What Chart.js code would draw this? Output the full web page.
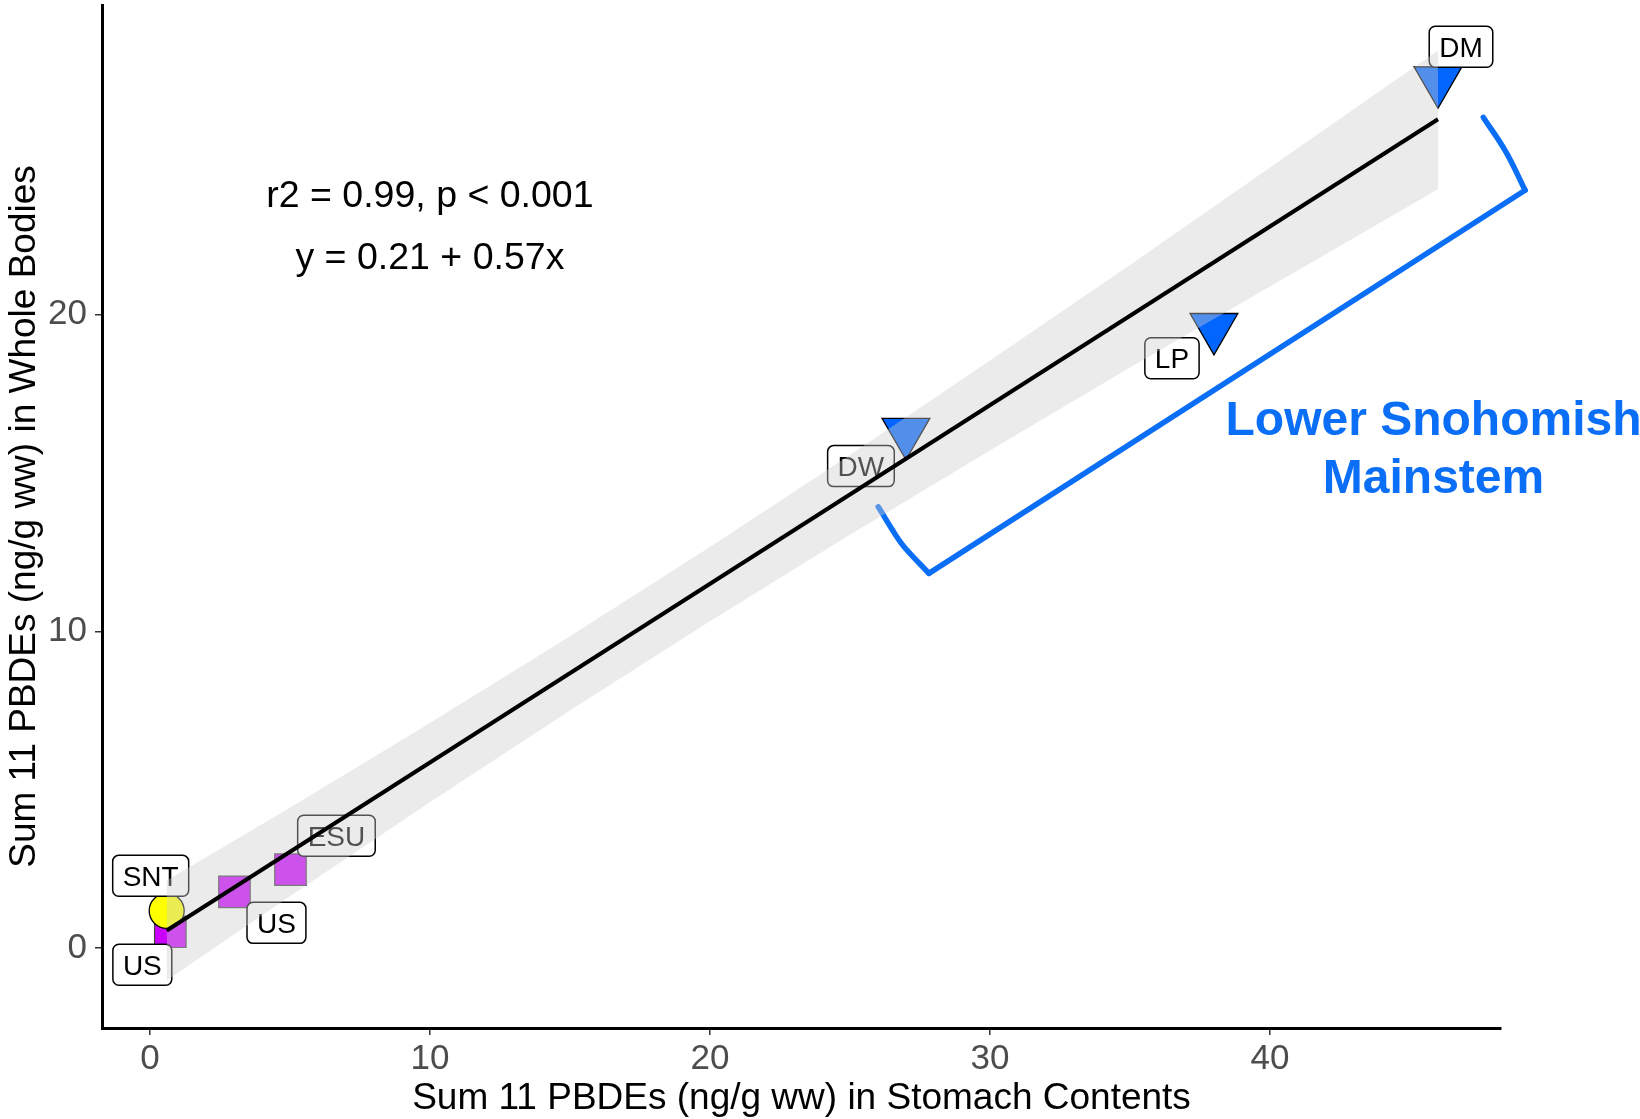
<!DOCTYPE html>
<html>
<head>
<meta charset="utf-8">
<script src="https://cdn.jsdelivr.net/npm/chart.js@4.4.1/dist/chart.umd.min.js"></script>
<style>
  html, body { margin: 0; padding: 0; background: #fff; }
  canvas { display: block; }
</style>
</head>
<body>
<canvas id="chart" width="1640" height="1119" style="width:1640px;height:1119px"></canvas>
<script>
// === Data ===
const squareNames = ['US', 'US', 'ESU'];
const squareX = [0.73, 3.02, 5.02];
const squareY = [0.51, 1.77, 2.47];

const circleNames = ['SNT'];
const circleX = [0.6];
const circleY = [1.17];

const triNames = ['DW', 'LP', 'DM'];
const triX = [27.0, 38.0, 46.0];
const triY = [16.29, 19.6, 27.39];

// fitted line + confidence ribbon
const fitX = [0.6, 46.0];
const fitY = [0.55, 26.17];
const bandX = [0.6, 5, 10, 15, 20, 25, 30, 35, 40, 46];
const bandUpper = [2.13, 4.43, 7.10, 9.84, 12.66, 15.57, 18.55, 21.57, 24.65, 28.34];
const bandLower = [-1.03, 1.63, 4.60, 7.50, 10.32, 13.05, 15.71, 18.33, 20.89, 23.96];

// blue bracket around the mainstem sites: two curved arms + the long side
// (listed right-to-left so Chart.js keeps the points past the x max)
const armTopX = [49.11, 48.42, 47.62];
const armTopY = [23.93, 25.15, 26.23];
const bracketX = [49.11, 27.82];
const bracketY = [23.93, 11.83];
const armBottomX = [27.82, 26.85, 26.01];
const armBottomY = [11.83, 12.76, 13.93];

const xTicks = [0, 10, 20, 30, 40];
const yTicks = [0, 10, 20];

// === Styling ===
const FONT = '"Liberation Sans", Arial, Helvetica, sans-serif';
const BLUE = '#0a6ef6';
const BAND = 'rgba(204, 204, 204, 0.4)';
Chart.defaults.font.family = FONT;

const pts = (xs, ys) => xs.map((x, i) => ({ x, y: ys[i] }));

// label box offsets from their point (px), like ggrepel put them
const squareOffsets = [[-28, 33], [42, 31], [46, -34]];
const circleOffsets = [[-16, -35]];
const triOffsets = [[-45, 34], [-42, 31], [23, -34]];

const TRI_INDEX = 3;
const labelSets = [
  { index: 5, names: squareNames, offsets: squareOffsets },
  { index: 4, names: circleNames, offsets: circleOffsets },
  { index: 3, names: triNames, offsets: triOffsets }
];

function drawLabel(ctx, text, cx, cy) {
  const tw = ctx.measureText(text).width;
  const w = tw + 20, h = 41;
  ctx.beginPath();
  ctx.roundRect(cx - w / 2, cy - h / 2, w, h, 6);
  ctx.fillStyle = '#fff';
  ctx.fill();
  ctx.lineWidth = 1.5;
  ctx.strokeStyle = '#000';
  ctx.stroke();
  ctx.fillStyle = '#000';
  ctx.textAlign = 'center';
  ctx.textBaseline = 'alphabetic';
  ctx.fillText(text, cx, cy + 10);
}

// labels go under the ribbon, so draw them right after the last point layer
const labelPlugin = {
  id: 'siteLabels',
  afterDatasetDraw(chart, args) {
    if (args.index !== TRI_INDEX) return;
    const ctx = chart.ctx;
    ctx.save();
    ctx.font = '28px ' + FONT;
    labelSets.forEach(({ index, names, offsets }) => {
      chart.getDatasetMeta(index).data.forEach((pt, i) => {
        drawLabel(ctx, names[i], pt.x + offsets[i][0], pt.y + offsets[i][1]);
      });
    });
    ctx.restore();
  }
};

const textPlugin = {
  id: 'annotText',
  afterDraw(chart) {
    const { ctx, scales: { x, y } } = chart;
    ctx.save();
    ctx.textAlign = 'center';
    ctx.textBaseline = 'alphabetic';
    ctx.fillStyle = '#000';
    ctx.font = '37.5px ' + FONT;
    ctx.fillText('r2 = 0.99, p < 0.001', x.getPixelForValue(10), y.getPixelForValue(23.4));
    ctx.fillText('y = 0.21 + 0.57x', x.getPixelForValue(10), y.getPixelForValue(21.45));
    ctx.fillStyle = BLUE;
    ctx.font = 'bold 48px ' + FONT;
    ctx.fillText('Lower Snohomish', x.getPixelForValue(45.84), y.getPixelForValue(16.2));
    ctx.fillText('Mainstem', x.getPixelForValue(45.84), y.getPixelForValue(14.36));
    ctx.restore();
  }
};

const axisCommon = {
  type: 'linear',
  border: { display: true, color: '#000', width: 3 },
  grid: { display: true, drawOnChartArea: false, drawTicks: true, tickLength: 7, color: '#333', lineWidth: 1.5 },
};

const bracketPiece = (xs, ys, tension) => ({
  type: 'line', data: pts(xs, ys), borderColor: BLUE, borderWidth: 5.5,
  borderCapStyle: 'round', borderJoinStyle: 'round', pointRadius: 0, fill: false,
  tension, clip: false
});

new Chart(document.getElementById('chart'), {
  type: 'scatter',
  data: {
    datasets: [
      { // 0 fit line
        type: 'line', data: pts(fitX, fitY), borderColor: '#000', borderWidth: 4,
        pointRadius: 0, fill: false, tension: 0
      },
      { // 1 ribbon upper
        type: 'line', data: pts(bandX, bandUpper), borderWidth: 0, borderColor: 'transparent',
        backgroundColor: BAND, pointRadius: 0, fill: '+1', tension: 0
      },
      { // 2 ribbon lower
        type: 'line', data: pts(bandX, bandLower), borderWidth: 0, borderColor: 'transparent',
        pointRadius: 0, fill: false, tension: 0
      },
      { // 3 mainstem sites
        data: pts(triX, triY), pointStyle: 'triangle', rotation: 180, pointRadius: 27.6,
        backgroundColor: '#0066ff', borderColor: '#000', borderWidth: 1.3
      },
      { // 4 SNT
        data: pts(circleX, circleY), pointStyle: 'circle', pointRadius: 17.5,
        backgroundColor: '#ffff00', borderColor: '#000', borderWidth: 1.3
      },
      { // 5 upper sites
        data: pts(squareX, squareY), pointStyle: 'rect', pointRadius: 22.3,
        backgroundColor: '#cc00ff', borderColor: '#444', borderWidth: 1.2
      },
      bracketPiece(armTopX, armTopY, 0.4),
      bracketPiece(bracketX, bracketY, 0),
      bracketPiece(armBottomX, armBottomY, 0.3)
    ]
  },
  options: {
    responsive: false,
    animation: false,
    devicePixelRatio: 1,
    layout: { autoPadding: false, padding: { left: 0, right: 139, top: 5, bottom: 0 } },
    plugins: { legend: { display: false }, tooltip: { enabled: false } },
    scales: {
      x: {
        ...axisCommon,
        min: -1.71, max: 48.25,
        afterBuildTicks: s => { s.ticks = xTicks.map(v => ({ value: v })); },
        afterFit: s => { s.height = 91; s.paddingLeft = 0; s.paddingRight = 0; },
        ticks: { color: '#4d4d4d', font: { size: 35, lineHeight: 1 }, padding: 7, maxRotation: 0 },
        title: {
          display: true, text: 'Sum 11 PBDEs (ng/g ww) in Stomach Contents', color: '#000',
          font: { size: 37, lineHeight: 1 }, padding: { top: 0, bottom: 2 }
        }
      },
      y: {
        ...axisCommon,
        min: -2.53, max: 29.78,
        afterBuildTicks: s => { s.ticks = yTicks.map(v => ({ value: v })); },
        afterFit: s => { s.width = 102; s.paddingTop = 0; s.paddingBottom = 0; },
        ticks: { color: '#4d4d4d', font: { size: 35, lineHeight: 1 }, padding: 8 },
        title: {
          display: true, text: 'Sum 11 PBDEs (ng/g ww) in Whole Bodies', color: '#000',
          font: { size: 37, lineHeight: 1 }, padding: { top: 6, bottom: 0 }
        }
      }
    }
  },
  plugins: [labelPlugin, textPlugin]
});
</script>
</body>
</html>
